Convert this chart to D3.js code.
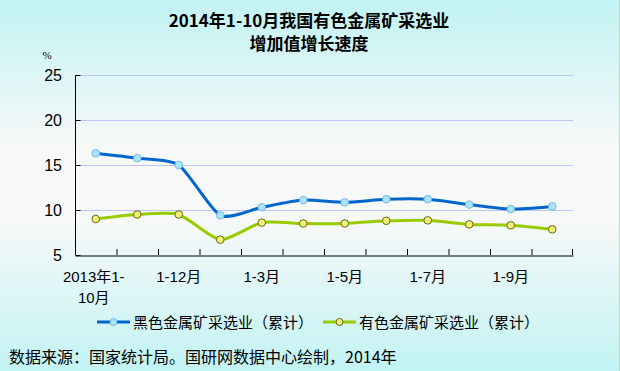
<!DOCTYPE html>
<html>
<head>
<meta charset="utf-8">
<script src="https://cdn.jsdelivr.net/npm/d3@7"></script>
<style>
  body { margin: 0; padding: 0; }
  svg { display: block; }
</style>
</head>
<body>
<svg id="chart" width="620" height="371"></svg>
<script>
const categories = ["2013年1-10月", "1-11月", "1-12月", "1-2月", "1-3月", "1-4月", "1-5月", "1-6月", "1-7月", "1-8月", "1-9月", "1-10月"];
const shownLabels = ["2013年1-10月", "1-12月", "1-3月", "1-5月", "1-7月", "1-9月"];
const ferrous = [16.3, 15.75, 15.0, 9.4, 10.3, 11.1, 10.85, 11.2, 11.2, 10.6, 10.1, 10.4];
const nonferrous = [9.0, 9.5, 9.5, 6.7, 8.6, 8.5, 8.5, 8.8, 8.85, 8.4, 8.3, 7.85];
const seriesNames = ["黑色金属矿采选业（累计）", "有色金属矿采选业（累计）"];
const yTicks = [5, 10, 15, 20, 25];

const svg = d3.select("#chart");
const width = 620, height = 371;
const margin = {left: 75, right: 47, top: 75, bottom: 116};

// background gradient
const defs = svg.append("defs");
const grad = defs.append("linearGradient")
    .attr("id", "bg")
    .attr("x1", 0).attr("y1", 0).attr("x2", 0).attr("y2", 1);
grad.append("stop").attr("offset", "0%").attr("stop-color", "#c2f3f3");
grad.append("stop").attr("offset", "40%").attr("stop-color", "#f7f8f8");
grad.append("stop").attr("offset", "60%").attr("stop-color", "#f7f8f8");
grad.append("stop").attr("offset", "100%").attr("stop-color", "#c2f3f3");

svg.append("rect")
    .attr("width", width).attr("height", height)
    .attr("fill", "url(#bg)");
svg.append("line")
    .attr("x1", width - 0.5).attr("x2", width - 0.5)
    .attr("y1", 0).attr("y2", height)
    .attr("stroke", "#b8d8c8");

const x = d3.scaleBand()
    .domain(categories)
    .range([margin.left, width - margin.right]);
const y = d3.scaleLinear()
    .domain([5, 25])
    .range([height - margin.bottom, margin.top]);

// title
const title = svg.append("text")
    .attr("text-anchor", "middle")
    .style("font-family", "'Noto Sans CJK SC', sans-serif")
    .style("font-weight", "bold")
    .style("font-size", "17px")
    .attr("fill", "#000");
title.append("tspan").attr("x", 309).attr("y", 27).text("2014年1-10月我国有色金属矿采选业");
title.append("tspan").attr("x", 309).attr("y", 50).text("增加值增长速度");

// gridlines
svg.append("g")
    .selectAll("line")
    .data(yTicks.filter(d => d > 5))
    .join("line")
    .attr("x1", margin.left).attr("x2", width - margin.right)
    .attr("y1", d => y(d) + 0.5).attr("y2", d => y(d) + 0.5)
    .attr("stroke", "#c0c4f4")
    .attr("stroke-width", 1);

// y axis
const yAxis = svg.append("g")
    .attr("transform", `translate(${margin.left + 0.5},0)`)
    .call(d3.axisRight(y).tickValues(yTicks).tickSize(5).tickFormat(""));
yAxis.select(".domain").attr("d", `M0,${y(25)}V${y(5)}`).attr("stroke", "#000");
yAxis.selectAll(".tick line").attr("stroke", "#000");

svg.append("g")
    .selectAll("text")
    .data(yTicks)
    .join("text")
    .attr("x", 62)
    .attr("y", d => y(d) + 6)
    .attr("text-anchor", "end")
    .style("font-family", "Arial, 'Liberation Sans', sans-serif")
    .style("font-size", "16px")
    .attr("fill", "#000")
    .text(d => d);

svg.append("text")
    .attr("x", 47).attr("y", 59)
    .attr("text-anchor", "middle")
    .style("font-family", "'Liberation Serif', serif")
    .style("font-size", "11px")
    .text("%");

// x axis
const xAxis = svg.append("g")
    .attr("transform", `translate(0,${y(5) + 0.5})`)
    .call(d3.axisTop(x).tickSize(0).tickFormat(""));
xAxis.select(".domain").attr("stroke", "#000");
svg.append("g")
    .selectAll("line")
    .data(categories.slice(1).concat(["end"]))
    .join("line")
    .attr("x1", (d, i) => i < categories.length - 1 ? x(d) + 0.5 : x.range()[1] - 0.5)
    .attr("x2", (d, i) => i < categories.length - 1 ? x(d) + 0.5 : x.range()[1] - 0.5)
    .attr("y1", y(5))
    .attr("y2", y(5) - 6)
    .attr("stroke", "#000");

const xLabels = svg.append("g")
    .style("font-family", "'Liberation Sans', 'Noto Sans CJK SC', sans-serif")
    .style("font-size", "15px")
    .attr("fill", "#000");
shownLabels.forEach(label => {
    const cx = x(label) + x.bandwidth() / 2;
    if (label === "2013年1-10月") {
        const t = xLabels.append("text").attr("text-anchor", "middle");
        t.append("tspan").attr("x", cx - 2).attr("y", 282).text("2013年1-");
        t.append("tspan").attr("x", cx - 2).attr("y", 303).text("10月");
    } else {
        xLabels.append("text")
            .attr("x", cx)
            .attr("y", 282)
            .attr("text-anchor", "middle")
            .text(label);
    }
});

// lines
const line = d3.line()
    .x((d, i) => x(categories[i]) + x.bandwidth() / 2)
    .y(d => y(d))
    .curve(d3.curveCardinal.tension(0.35));

const series = [
    {values: ferrous, stroke: "#0066cc", fill: "#a8e4fa", edge: "#7ab8e0"},
    {values: nonferrous, stroke: "#99cc00", fill: "#eef07a", edge: "#6a6a10"}
];

series.forEach(s => {
    svg.append("path")
        .attr("d", line(s.values))
        .attr("fill", "none")
        .attr("stroke", s.stroke)
        .attr("stroke-width", 3);
    svg.append("g")
        .selectAll("circle")
        .data(s.values)
        .join("circle")
        .attr("cx", (d, i) => x(categories[i]) + x.bandwidth() / 2)
        .attr("cy", d => y(d))
        .attr("r", 3.8)
        .attr("fill", s.fill)
        .attr("stroke", s.edge)
        .attr("stroke-width", 1);
});

// legend
const legendX = [97, 323];
series.forEach((s, i) => {
    const g = svg.append("g").attr("transform", `translate(${legendX[i]},322)`);
    g.append("line")
        .attr("x1", 0).attr("x2", 33)
        .attr("y1", 0).attr("y2", 0)
        .attr("stroke", s.stroke)
        .attr("stroke-width", 3);
    g.append("circle")
        .attr("cx", 16.5).attr("cy", 0).attr("r", 3.5)
        .attr("fill", s.fill)
        .attr("stroke", s.edge);
    g.append("text")
        .attr("x", 36).attr("y", 6)
        .style("font-family", "'Noto Sans CJK SC', sans-serif")
        .style("font-size", "15px")
        .attr("fill", "#000")
        .text(seriesNames[i]);
});

// source
svg.append("text")
    .attr("x", 9).attr("y", 363)
    .style("font-family", "'Noto Sans CJK SC', sans-serif")
    .style("font-size", "16px")
    .attr("fill", "#000")
    .text("数据来源：国家统计局。国研网数据中心绘制，2014年");
</script>
</body>
</html>
